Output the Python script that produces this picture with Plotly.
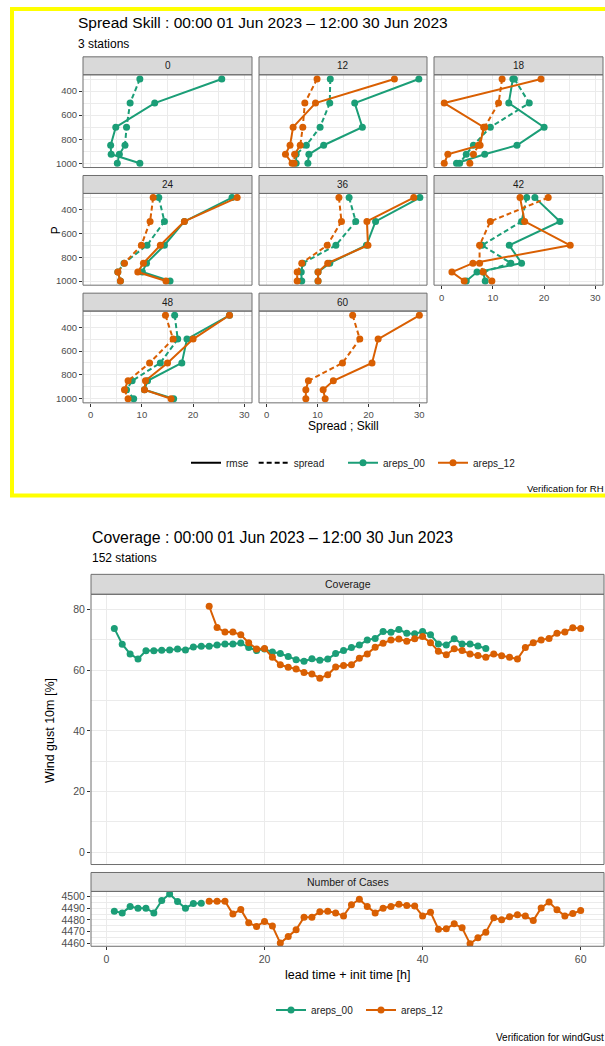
import plotly.graph_objects as go

W, H = 605, 1046

# ---------------- data: spread / skill ----------------
levels = [300, 500, 700, 850, 925, 1000]
lead_panels = [0, 12, 18, 24, 36, 42, 48, 60]

rmse_areps00 = {
    0: [25.6, 12.5, 4.9, 3.9, 4.0, 9.6],
    12: [29.9, 17.3, 18.8, 11.2, 8.3, 8.1],
    18: [13.9, 13.1, 20.0, 14.7, 8.4, 2.9],
    24: [27.6, 18.3, 14.4, 10.9, 10.1, 15.5],
    36: [30.1, 21.4, 19.6, 12.4, 10.1, 10.1],
    42: [18.2, 23.1, 13.2, 15.6, 6.9, 4.8],
    48: [27.1, 18.8, 17.8, 11.1, 10.5, 16.2],
}
spread_areps00 = {
    0: [9.6, 7.7, 7.0, 6.7, 5.6, 5.2],
    12: [12.5, 12.4, 10.5, 7.8, 5.8, 5.8],
    18: [14.2, 17.1, 9.5, 6.2, 4.8, 3.5],
    24: [13.3, 14.4, 11.0, 6.5, 5.3, 5.8],
    36: [16.2, 17.5, 13.6, 7.1, 6.8, 6.9],
    42: [16.6, 15.6, 7.9, 13.5, 8.1, 8.5],
    48: [16.4, 17.0, 13.6, 8.1, 7.0, 8.4],
}
rmse_areps12 = {
    12: [25.1, 9.6, 5.2, 4.6, 3.7, 5.0],
    18: [19.4, 0.5, 8.2, 7.5, 1.2, 0.5],
    24: [28.6, 18.3, 13.6, 10.3, 9.2, 14.7],
    36: [28.9, 19.7, 19.9, 12.0, 10.1, 10.1],
    42: [15.3, 16.2, 25.1, 6.1, 2.0, 4.4],
    48: [27.1, 20.0, 15.0, 10.7, 10.5, 15.7],
    60: [30.0, 21.9, 20.7, 13.1, 11.1, 11.5],
}
spread_areps12 = {
    12: [9.9, 7.5, 7.1, 6.6, 5.5, 5.4],
    18: [11.8, 11.1, 8.4, 7.2, 6.2, 5.5],
    24: [12.2, 11.6, 9.9, 6.6, 5.3, 5.8],
    36: [14.2, 14.7, 11.9, 6.9, 6.0, 6.0],
    42: [20.8, 9.5, 7.4, 7.4, 8.1, 9.8],
    48: [14.6, 16.1, 11.5, 7.3, 6.6, 7.3],
    60: [16.9, 18.3, 14.9, 8.2, 7.7, 7.7],
}

# ---------------- data: coverage ----------------
lead_00 = [1, 2, 3, 4, 5, 6, 7, 8, 9, 10, 11, 12, 13, 14, 15, 16, 17, 18, 19, 20,
           21, 22, 23, 24, 25, 26, 27, 28, 29, 30, 31, 32, 33, 34, 35, 36, 37, 38,
           39, 40, 41, 42, 43, 44, 45, 46, 47, 48]
coverage_00 = [73.8, 68.6, 65.4, 63.7, 66.4, 66.4, 66.6, 66.7, 67.0, 66.7, 67.7, 67.9,
               67.9, 68.3, 68.7, 68.7, 69.0, 67.5, 66.5, 67.0, 66.0, 65.5, 64.5, 63.5,
               63.0, 63.8, 63.3, 63.7, 65.5, 66.5, 67.5, 68.3, 70.0, 70.5, 72.8, 72.5,
               73.4, 72.2, 72.0, 72.8, 71.7, 68.7, 68.3, 70.4, 68.7, 68.7, 68.0, 67.2]
lead_12 = [13, 14, 15, 16, 17, 18, 19, 20, 21, 22, 23, 24, 25, 26, 27, 28, 29, 30, 31,
           32, 33, 34, 35, 36, 37, 38, 39, 40, 41, 42, 43, 44, 45, 46, 47, 48, 49, 50,
           51, 52, 53, 54, 55, 56, 57, 58, 59, 60]
coverage_12 = [81.1, 74.1, 72.6, 72.6, 71.7, 69.1, 67.0, 67.2, 64.3, 61.8, 61.0, 60.4,
               59.3, 58.8, 57.4, 58.5, 61.1, 61.6, 61.8, 64.0, 65.4, 67.6, 68.9, 70.0,
               70.3, 69.6, 70.4, 71.1, 69.1, 66.3, 65.1, 67.1, 66.5, 65.4, 64.9, 64.3,
               65.4, 64.8, 64.3, 63.7, 67.5, 69.1, 70.0, 70.5, 72.2, 72.6, 74.0, 73.8]

cases_lead_00 = [1, 2, 3, 4, 5, 6, 7, 8, 9, 10, 11, 12]
cases_00 = [4487.4, 4486, 4491.4, 4490, 4490, 4486, 4496.6, 4502.3, 4495.7, 4490,
            4494, 4494.3]
cases_12 = [4496, 4496, 4496, 4485, 4489, 4477.4, 4474.3, 4478.6, 4474.6, 4460,
            4465.7, 4471.4, 4482.3, 4482.3, 4487, 4487.4, 4486, 4483.4, 4493, 4497.7,
            4491.4, 4486, 4490, 4491.4, 4493.4, 4492.3, 4492, 4483.4, 4486.6, 4472,
            4472.3, 4476.6, 4473.1, 4459.4, 4464.6, 4469.4, 4481.7, 4480, 4482.6,
            4484.3, 4483.4, 4479.4, 4490.3, 4495.4, 4488.6, 4483.4, 4485.4, 4488]

GREEN = "#1B9E77"
ORANGE = "#D95F02"
FONT = "Liberation Sans"
GRID = "#EBEBEB"
BORDER = "#6E6E6E"
STRIP = "#D9D9D9"
TICKC = "#4D4D4D"


def fx(px):
    return px / W


def fy(py):
    return 1 - py / H


fig = go.Figure()
shapes = []
annotations = []

cols = [(83, 252), (259, 427), (434, 603)]
rows = [(74, 167), (193, 285), (311, 403)]
STRIP_H = 18
pos = {0: (0, 0), 12: (0, 1), 18: (0, 2), 24: (1, 0), 36: (1, 1),
       42: (1, 2), 48: (2, 0), 60: (2, 1)}
xlabel_panels = {42, 48, 60}
ylabel_panels = {0, 24, 48}

layout_axes = {}


def add_panel_frame(x0, x1, y0, y1, label, fsize):
    # strip
    shapes.append(dict(type="rect", xref="paper", yref="paper",
                       x0=fx(x0), x1=fx(x1), y0=fy(y0 - STRIP_H), y1=fy(y0),
                       fillcolor=STRIP, line=dict(color=BORDER, width=1), layer="above"))
    annotations.append(dict(text=label, x=fx((x0 + x1) / 2), y=fy(y0 - STRIP_H / 2),
                            xref="paper", yref="paper", showarrow=False,
                            font=dict(family=FONT, size=fsize, color="#1A1A1A"),
                            xanchor="center", yanchor="middle"))
    # border
    shapes.append(dict(type="rect", xref="paper", yref="paper",
                       x0=fx(x0), x1=fx(x1), y0=fy(y1), y1=fy(y0),
                       fillcolor="rgba(0,0,0,0)", line=dict(color=BORDER, width=1),
                       layer="above"))


for i, lt in enumerate(lead_panels):
    n = i + 1
    r, c = pos[lt]
    x0, x1 = cols[c]
    y0, y1 = rows[r]
    xa = "x" if n == 1 else f"x{n}"
    ya = "y" if n == 1 else f"y{n}"
    series = [
        (GREEN, rmse_areps00, "solid"),
        (GREEN, spread_areps00, "5px,3px"),
        (ORANGE, rmse_areps12, "solid"),
        (ORANGE, spread_areps12, "5px,3px"),
    ]
    for color, dct, dash in series:
        if lt in dct:
            fig.add_trace(go.Scatter(
                x=dct[lt], y=levels, xaxis=xa, yaxis=ya, mode="lines+markers",
                line=dict(color=color, width=2, dash=dash),
                marker=dict(color=color, size=7), showlegend=False,
                hoverinfo="skip"))
    show_x = lt in xlabel_panels
    show_y = lt in ylabel_panels
    layout_axes[f"xaxis{n}"] = dict(
        domain=[fx(x0), fx(x1)], anchor=ya, range=[-1.5, 31.5],
        tickvals=[0, 10, 20, 30], showticklabels=show_x,
        ticks="outside" if show_x else "", ticklen=3, tickcolor="#333333",
        tickfont=dict(family=FONT, size=9.5, color=TICKC),
        showgrid=True, gridcolor=GRID, gridwidth=1, zeroline=False, showline=False,
        minor=dict(tickvals=[5, 15, 25], showgrid=True, gridcolor=GRID, gridwidth=0.5))
    layout_axes[f"yaxis{n}"] = dict(
        domain=[fy(y1), fy(y0)], anchor=xa, range=[1035, 265],
        tickvals=[400, 600, 800, 1000], showticklabels=show_y,
        ticks="outside" if show_y else "", ticklen=3, tickcolor="#333333",
        tickfont=dict(family=FONT, size=9.5, color=TICKC),
        showgrid=True, gridcolor=GRID, gridwidth=1, zeroline=False, showline=False,
        minor=dict(tickvals=[300, 500, 700, 900], showgrid=True, gridcolor=GRID,
                   gridwidth=0.5))
    add_panel_frame(x0, x1, y0, y1, str(lt), 10)

# ---------------- bottom panels ----------------
bx0, bx1 = 91, 604
cov = (595, 866)
cas = (893, 948)

fig.add_trace(go.Scatter(x=lead_00, y=coverage_00, xaxis="x9", yaxis="y9",
                         mode="lines+markers", line=dict(color=GREEN, width=2),
                         marker=dict(color=GREEN, size=7), showlegend=False,
                         hoverinfo="skip"))
fig.add_trace(go.Scatter(x=lead_12, y=coverage_12, xaxis="x9", yaxis="y9",
                         mode="lines+markers", line=dict(color=ORANGE, width=2),
                         marker=dict(color=ORANGE, size=7), showlegend=False,
                         hoverinfo="skip"))
fig.add_trace(go.Scatter(x=cases_lead_00, y=cases_00, xaxis="x10", yaxis="y10",
                         mode="lines+markers", line=dict(color=GREEN, width=2),
                         marker=dict(color=GREEN, size=7), showlegend=False,
                         hoverinfo="skip"))
fig.add_trace(go.Scatter(x=lead_12, y=cases_12, xaxis="x10", yaxis="y10",
                         mode="lines+markers", line=dict(color=ORANGE, width=2),
                         marker=dict(color=ORANGE, size=7), showlegend=False,
                         hoverinfo="skip"))

common_x = dict(range=[-1.95, 62.95], tickvals=[0, 20, 40, 60], showgrid=True,
                gridcolor=GRID, gridwidth=1, zeroline=False, showline=False,
                minor=dict(tickvals=[10, 30, 50], showgrid=True, gridcolor=GRID,
                           gridwidth=0.5),
                tickfont=dict(family=FONT, size=10.5, color=TICKC),
                ticklen=3, tickcolor="#333333")
layout_axes["xaxis9"] = dict(domain=[fx(bx0), fx(bx1)], anchor="y9",
                             showticklabels=False, ticks="", **common_x)
layout_axes["xaxis10"] = dict(domain=[fx(bx0), fx(bx1)], anchor="y10",
                              showticklabels=True, ticks="outside", **common_x)
layout_axes["yaxis9"] = dict(domain=[fy(cov[1]), fy(cov[0])], anchor="x9",
                             range=[-4.05, 85.05], tickvals=[0, 20, 40, 60, 80],
                             ticks="outside", ticklen=3, tickcolor="#333333",
                             tickfont=dict(family=FONT, size=10.5, color=TICKC),
                             showgrid=True, gridcolor=GRID, gridwidth=1,
                             zeroline=False, showline=False,
                             minor=dict(tickvals=[10, 30, 50, 70], showgrid=True,
                                        gridcolor=GRID, gridwidth=0.5))
layout_axes["yaxis10"] = dict(domain=[fy(cas[1]), fy(cas[0])], anchor="x10",
                              range=[4457.25, 4504.45],
                              tickvals=[4460, 4470, 4480, 4490, 4500],
                              ticks="outside", ticklen=3, tickcolor="#333333",
                              tickfont=dict(family=FONT, size=10.5, color=TICKC),
                              showgrid=True, gridcolor=GRID, gridwidth=1,
                              zeroline=False, showline=False,
                              minor=dict(tickvals=[4465, 4475, 4485, 4495],
                                         showgrid=True, gridcolor=GRID,
                                         gridwidth=0.5))

STRIP_H = 20
add_panel_frame(bx0, bx1, cov[0], cov[1], "Coverage", 10.5)
STRIP_H = 19
add_panel_frame(bx0, bx1, cas[0], cas[1], "Number of Cases", 10.5)

# ---------------- legends (dummy entries) ----------------
fig.add_trace(go.Scatter(x=[None], y=[None], mode="lines", name="rmse",
                         line=dict(color="black", width=2), legend="legend"))
fig.add_trace(go.Scatter(x=[None], y=[None], mode="lines", name="spread",
                         line=dict(color="black", width=2, dash="5px,3px"),
                         legend="legend"))
fig.add_trace(go.Scatter(x=[None], y=[None], mode="lines+markers", name="areps_00",
                         line=dict(color=GREEN, width=2), marker=dict(color=GREEN, size=7),
                         legend="legend2"))
fig.add_trace(go.Scatter(x=[None], y=[None], mode="lines+markers", name="areps_12",
                         line=dict(color=ORANGE, width=2), marker=dict(color=ORANGE, size=7),
                         legend="legend2"))
fig.add_trace(go.Scatter(x=[None], y=[None], mode="lines+markers", name="areps_00",
                         line=dict(color=GREEN, width=2), marker=dict(color=GREEN, size=7),
                         legend="legend3"))
fig.add_trace(go.Scatter(x=[None], y=[None], mode="lines+markers", name="areps_12",
                         line=dict(color=ORANGE, width=2), marker=dict(color=ORANGE, size=7),
                         legend="legend3"))

leg_common = dict(orientation="h", xanchor="left", yanchor="middle",
                  bgcolor="rgba(0,0,0,0)", borderwidth=0, itemwidth=30,
                  font=dict(family=FONT, size=10, color="#1A1A1A"))

# ---------------- texts ----------------
def text(t, x, y, size, xanchor="left", color="#000000", angle=0):
    annotations.append(dict(text=t, x=fx(x), y=fy(y), xref="paper", yref="paper",
                            showarrow=False, xanchor=xanchor, yanchor="middle",
                            textangle=angle,
                            font=dict(family=FONT, size=size, color=color)))


text("Spread Skill : 00:00 01 Jun 2023 \u2013 12:00 30 Jun 2023", 76, 22, 15.5)
text("3 stations", 76, 43, 12)
text("Spread ; Skill", 343, 426, 12, xanchor="center")
text("P", 56, 230, 12, xanchor="center", angle=-90)
text("Verification for RH", 606, 489, 9.5, xanchor="right")

text("Coverage : 00:00 01 Jun 2023 \u2013 12:00 30 Jun 2023", 90, 538, 15.8)
text("152 stations", 90, 559, 12)
text("lead time + init time [h]", 347, 977, 12.5, xanchor="center")
text("Wind gust 10m [%]", 50, 732, 12.5, xanchor="center", angle=-90)
text("Verification for windGust", 606, 1039, 10, xanchor="right")

# yellow frame (right edge runs past the page)
shapes.append(dict(type="rect", xref="paper", yref="paper",
                   x0=fx(12), x1=fx(609), y0=fy(496), y1=fy(8),
                   line=dict(color="#FFFF00", width=4), fillcolor="rgba(0,0,0,0)",
                   layer="above"))

fig.update_layout(
    width=W, height=H, margin=dict(l=0, r=0, t=0, b=0),
    paper_bgcolor="white", plot_bgcolor="white",
    showlegend=True,
    legend=dict(x=fx(186), y=fy(463), **leg_common),
    legend2=dict(x=fx(343), y=fy(463), entrywidth=45, **leg_common),
    legend3=dict(x=fx(271), y=fy(1012), entrywidth=45, **leg_common),
    shapes=shapes, annotations=annotations,
    font=dict(family=FONT),
    **layout_axes,
)

fig.write_html("out.html")
